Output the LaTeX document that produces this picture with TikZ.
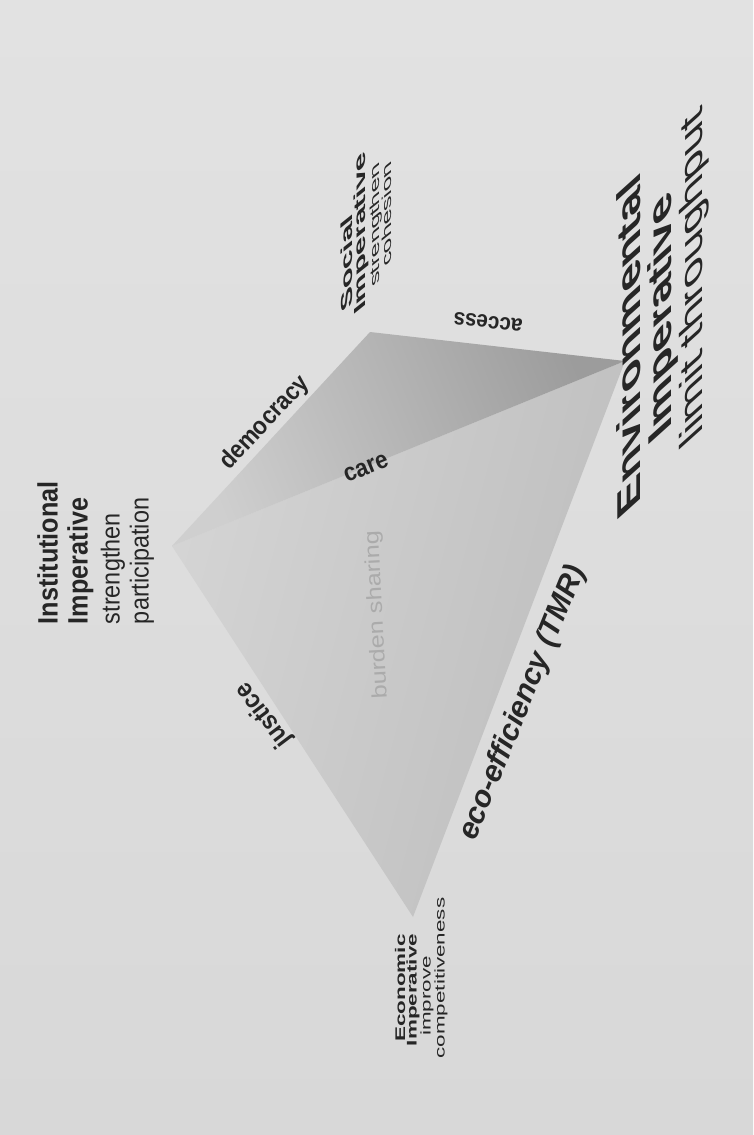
\documentclass[tikz,border=0pt]{standalone}
\usepackage{fontspec}
\setmainfont{Liberation Sans}
\newfontfamily\cond[FakeStretch=0.9]{Liberation Sans}
\definecolor{bgtop}{HTML}{E2E2E2}
\definecolor{bgbot}{HTML}{D8D8D8}
\definecolor{upL}{HTML}{CFCFCF}
\definecolor{upD}{HTML}{9C9C9C}
\definecolor{loL}{HTML}{D4D4D4}
\definecolor{loD}{HTML}{BDBDBD}
\definecolor{ink}{HTML}{262626}
\definecolor{faint}{HTML}{ABABAB}
\newcommand{\fsz}[1]{\fontsize{#1}{#1}\selectfont}
\begin{document}
\begin{tikzpicture}[x=1pt,y=-1pt,
  lab/.style={text=ink, inner sep=0pt, outer sep=0pt},
  up/.style={lab, rotate=90, anchor=mid west},
  edgelab/.style={lab, font=\cond\bfseries\fsz{25}}]
\useasboundingbox (0,0) rectangle (753,1135);
\shade[top color=bgtop, bottom color=bgbot] (0,0) rectangle (753,1135);
% vertices
\coordinate (I) at (172,546);
\coordinate (S) at (370,332);
\coordinate (E) at (625,361);
\coordinate (C) at (413,917);
% faces
\shade[top color=loL, bottom color=loD, shading angle=75] (I) -- (E) -- (C) -- cycle;
\shade[top color=upL, bottom color=upD, shading angle=112] (I) -- (S) -- (E) -- cycle;
% Institutional
\node[up, font=\cond\bfseries\fsz{28}] (inst1) at (55,624) {Institutional};
\node[up, font=\cond\bfseries\fsz{28}] (inst2) at (85,624) {Imperative};
\node[up, font=\cond\fsz{26}] (inst3) at (117,624) {strengthen};
\node[up, font=\cond\fsz{26}] (inst4) at (146,624) {participation};
% Environmental
\node[up, xslant=-0.9, xscale=1.45, font=\bfseries\fsz{33}] (env1) at (638,505) {Environmental};
\node[up, xslant=-0.9, xscale=1.45, font=\bfseries\fsz{33}] (env2) at (669,430) {Imperative};
\node[up, xslant=-0.9, xscale=1.5, font=\fsz{32}] (env3) at (700,435) {limit throughput};
% Economic
\node[lab, rotate=90, xscale=1.6, font=\bfseries\fsz{14}] (eco1) at (400,988) {Economic};
\node[lab, rotate=90, xscale=1.6, font=\bfseries\fsz{14}] (eco2) at (413,990) {Imperative};
\node[lab, rotate=90, xscale=1.6, font=\fsz{14}] (eco3) at (427,996) {improve};
\node[lab, rotate=90, xscale=1.6, font=\fsz{14}] (eco4) at (441,978) {competitiveness};
% Social
\node[up, xslant=-0.8, xscale=2.2, font=\cond\bfseries\fsz{16}] (soc1) at (350,308) {Social};
\node[up, xslant=-0.8, xscale=2.2, font=\cond\bfseries\fsz{16}] (soc2) at (363,310) {Imperative};
\node[up, xslant=-0.8, xscale=2.2, font=\cond\fsz{13}] (soc3) at (377,285) {strengthen};
\node[up, xslant=-0.8, xscale=2.2, font=\cond\fsz{13}] (soc4) at (389,265) {cohesion};
% edge labels
\node[edgelab, rotate=47] (dem) at (265,423) {democracy};
\node[edgelab, rotate=22] (care) at (366,468) {care};
\node[edgelab, rotate=173.5, font=\cond\bfseries\fsz{23}] (acc) at (488,322) {access};
\node[edgelab, rotate=127, font=\cond\bfseries\fsz{26}] (just) at (264,715) {justice};
\node[lab, rotate=68, font=\bfseries\itshape\fsz{30}] (eff) at (523,703) {eco-efficiency (TMR)};
\node[lab, rotate=93, xscale=1.2, text=faint, font=\fsz{21}] (burd) at (377,615) {burden sharing};
\end{tikzpicture}
\end{document}
